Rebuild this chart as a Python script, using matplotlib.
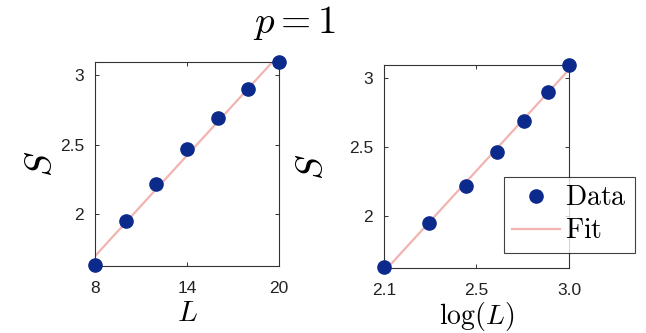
import numpy as np
import matplotlib
matplotlib.use("Agg")
import matplotlib.pyplot as plt
from matplotlib.ticker import FixedLocator, FixedFormatter

plt.rcParams['mathtext.fontset'] = 'cm'
plt.rcParams['font.family'] = ['Liberation Sans', 'DejaVu Sans']

# System sizes and measured S values
L = np.array([8, 10, 12, 14, 16, 18, 20])
S = np.array([1.633, 1.950, 2.216, 2.466, 2.690, 2.900, 3.096])
left_ticks = [8, 14, 20]
right_tick_labels = ['2.1', '2.5', '3.0']
y_ticks = [2, 2.5, 3]
y_tick_labels = ['2', '2.5', '3']
y_limits = (1.626, 3.094)

data_color = '#0b2a8c'
fit_color = '#f2b4b0'
axis_color = '#333333'

fig = plt.figure(figsize=(6.46, 3.33), dpi=100)
fig.patch.set_facecolor('white')

W, H = 646, 333
def box(x0, y0, x1, y1):
    return [x0 / W, 1 - y1 / H, (x1 - x0) / W, (y1 - y0) / H]

ax1 = fig.add_axes(box(95, 62, 279, 266))
ax2 = fig.add_axes(box(384, 65, 569, 268))

logL = np.log(L)

def style(ax):
    for sp in ax.spines.values():
        sp.set_color(axis_color)
        sp.set_linewidth(0.8)
    ax.tick_params(direction='in', top=True, right=True, length=3,
                   width=0.7, colors=axis_color, labelsize=12.5,
                   labelcolor='#222222')
    ax.tick_params(axis='x', pad=11)
    ax.tick_params(axis='y', pad=8)
    ax.set_ylim(*y_limits)
    ax.yaxis.set_major_locator(FixedLocator(y_ticks))
    ax.yaxis.set_major_formatter(FixedFormatter(y_tick_labels))

# Left panel: S versus L with a linear fit
c1 = np.polyfit(L, S, 1)
ax1.plot(L, np.polyval(c1, L), color=fit_color, lw=1.6, zorder=2)
ax1.plot(L, S, 'o', color=data_color, ms=9.5, clip_on=False, zorder=3)
ax1.set_xlim(L.min(), L.max())
ax1.xaxis.set_major_locator(FixedLocator(left_ticks))
ax1.xaxis.set_major_formatter(FixedFormatter([str(t) for t in left_ticks]))
style(ax1)
ax1.set_xlabel(r'$L$', fontsize=21, labelpad=2)
ax1.set_ylabel(r'$S$', fontsize=27, labelpad=0)

# Right panel: S versus log(L) with a linear fit
c2 = np.polyfit(logL, S, 1)
ax2.plot(logL, np.polyval(c2, logL), color=fit_color, lw=1.6, zorder=2,
         label=r'$\mathrm{Fit}$')
ax2.plot(logL, S, 'o', color=data_color, ms=9.5, clip_on=False, zorder=3,
         label=r'$\mathrm{Data}$')
ax2.set_xlim(logL.min(), logL.max())
xt = [logL.min(), (logL.min() + logL.max()) / 2, logL.max()]
ax2.xaxis.set_major_locator(FixedLocator(xt))
ax2.xaxis.set_major_formatter(FixedFormatter(right_tick_labels))
style(ax2)
ax2.set_xlabel(r'$\log(L)$', fontsize=20, labelpad=1)
ax2.set_ylabel(r'$S$', fontsize=27, labelpad=13)

handles, labels = ax2.get_legend_handles_labels()
leg = ax2.legend(handles[::-1], labels[::-1], loc='upper left',
                 bbox_to_anchor=((504 - 384) / 185, (268 - 177) / 203),
                 frameon=True, fancybox=False, fontsize=20,
                 handlelength=1.7, handletextpad=0.2, borderpad=0.3,
                 labelspacing=0.25, borderaxespad=0)
leg.get_frame().set_edgecolor('#111111')
leg.get_frame().set_linewidth(0.8)
leg.set_zorder(5)

fig.text(295 / W, 1 - 23 / H, r'$p=1$', fontsize=28, ha='center', va='center')

fig.savefig('out.png', dpi=100, facecolor='white')
